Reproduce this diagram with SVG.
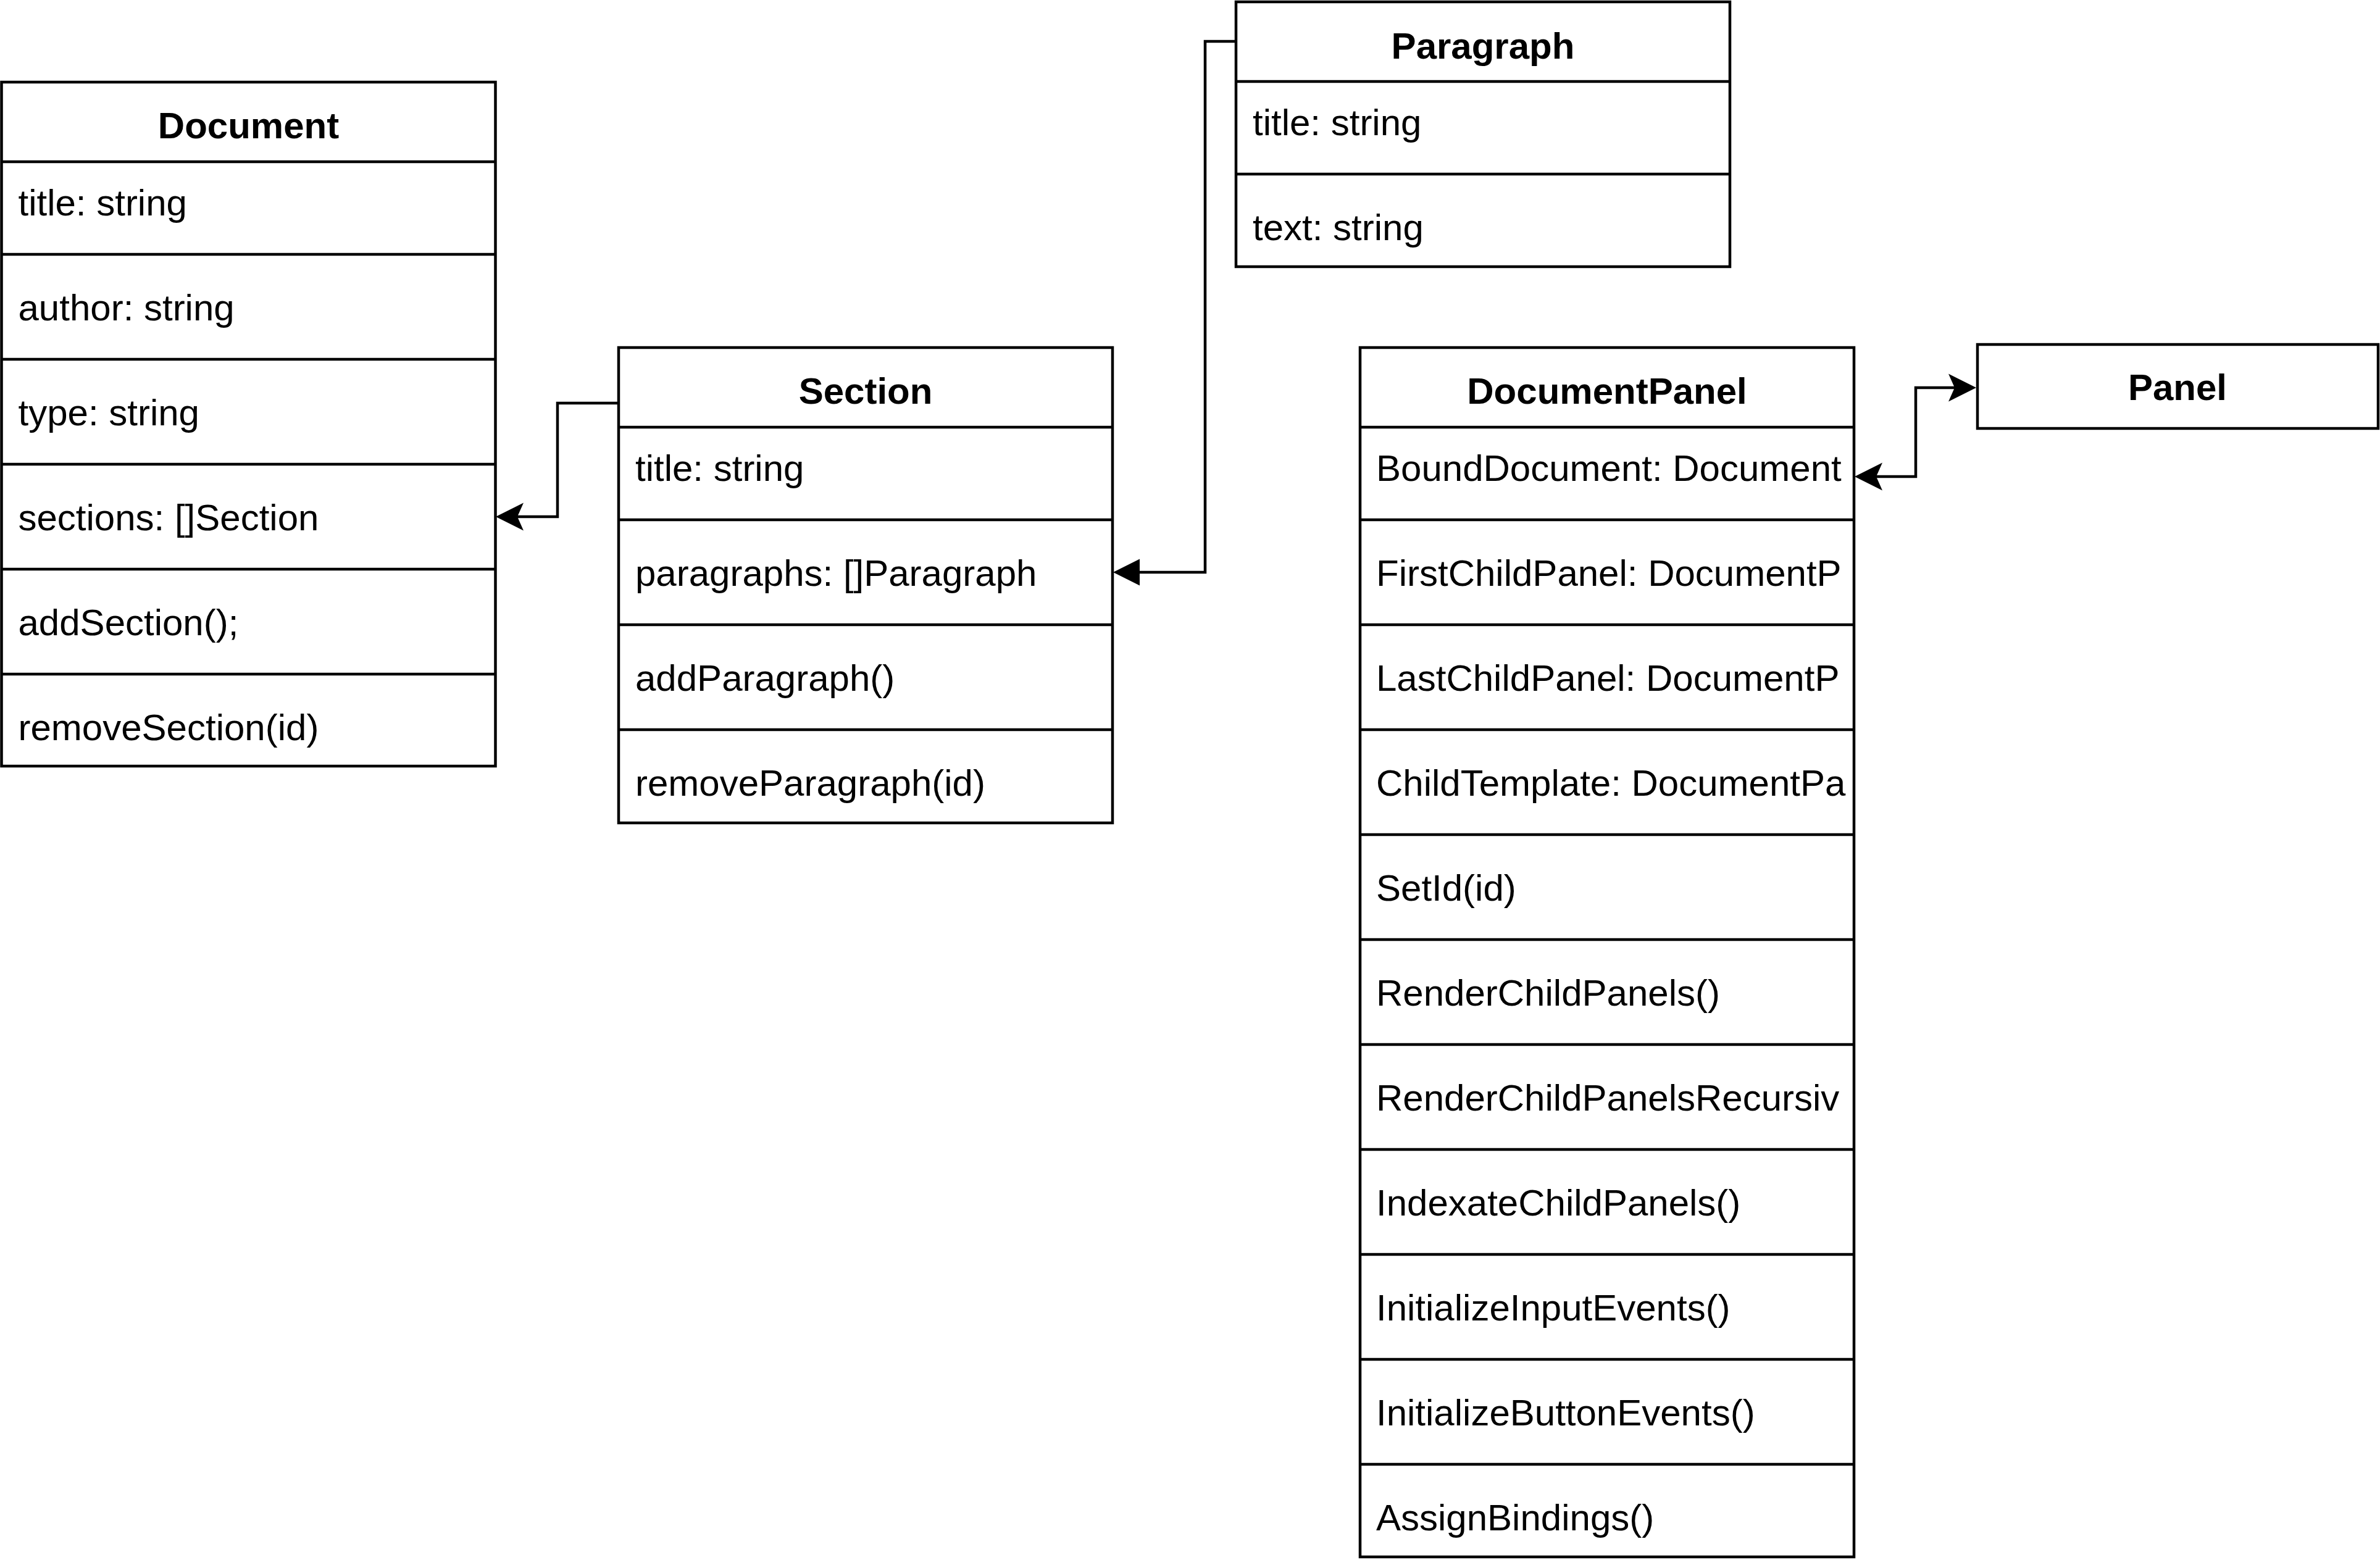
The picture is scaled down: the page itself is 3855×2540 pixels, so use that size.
<svg xmlns="http://www.w3.org/2000/svg" width="3855" height="2540" viewBox="0 0 3855 2540">
<style>
.box{fill:#ffffff;stroke:#000000;stroke-width:4.5}
.ln{stroke:#000000;stroke-width:4.5;fill:none}
.t{font-family:"Liberation Sans",Arial,Helvetica,sans-serif;font-size:60px;fill:#000000}
.h{font-family:"Liberation Sans",Arial,Helvetica,sans-serif;font-size:60px;font-weight:bold;fill:#000000;text-anchor:middle}
.edge{stroke:#000000;stroke-width:4.5;fill:none}
</style>
<defs>
<marker id="classic" markerUnits="userSpaceOnUse" markerWidth="46" markerHeight="46" refX="10" refY="22.5" orient="auto-start-reverse" overflow="visible">
<path d="M45,22.5 L0,0 L10,22.5 L0,45 Z" fill="#000000" stroke="none"/>
</marker>
<marker id="block" markerUnits="userSpaceOnUse" markerWidth="44" markerHeight="44" refX="0" refY="21.5" orient="auto" overflow="visible">
<path d="M43,21.5 L0,0 L0,43 Z" fill="#000000" stroke="none"/>
</marker>
<clipPath id="dpclip"><rect x="2203" y="692" width="795" height="1830"/></clipPath>
</defs>
<rect x="0" y="0" width="3855" height="2540" fill="#ffffff"/>

<g id="connectors">
<path class="edge" d="M1002,653 H903 V837 H838" marker-end="url(#classic)"/>
<path class="edge" d="M2002,67 H1952 V927 H1846" marker-end="url(#block)"/>
<path class="edge" d="M3039,772 H3103 V628 H3166" marker-start="url(#classic)" marker-end="url(#classic)"/>
</g>

<g id="document">
<rect class="box" x="2.5" y="133" width="800" height="1108"/>
<line class="ln" x1="2.5" y1="262" x2="802.5" y2="262"/>
<line class="ln" x1="2.5" y1="412" x2="802.5" y2="412"/>
<line class="ln" x1="2.5" y1="582" x2="802.5" y2="582"/>
<line class="ln" x1="2.5" y1="752" x2="802.5" y2="752"/>
<line class="ln" x1="2.5" y1="922" x2="802.5" y2="922"/>
<line class="ln" x1="2.5" y1="1092" x2="802.5" y2="1092"/>
<text class="h" x="402.5" y="224">Document</text>
<text class="t" x="29.5" y="349">title: string</text>
<text class="t" x="29.5" y="519">author: string</text>
<text class="t" x="29.5" y="689">type: string</text>
<text class="t" x="29.5" y="859">sections: []Section</text>
<text class="t" x="29.5" y="1029">addSection();</text>
<text class="t" x="29.5" y="1199">removeSection(id)</text>
</g>

<g id="section">
<rect class="box" x="1002" y="563" width="800" height="770"/>
<line class="ln" x1="1002" y1="692" x2="1802" y2="692"/>
<line class="ln" x1="1002" y1="842" x2="1802" y2="842"/>
<line class="ln" x1="1002" y1="1012" x2="1802" y2="1012"/>
<line class="ln" x1="1002" y1="1182" x2="1802" y2="1182"/>
<text class="h" x="1402" y="654">Section</text>
<text class="t" x="1029" y="779">title: string</text>
<text class="t" x="1029" y="949">paragraphs: []Paragraph</text>
<text class="t" x="1029" y="1119">addParagraph()</text>
<text class="t" x="1029" y="1289">removeParagraph(id)</text>
</g>

<g id="paragraph">
<rect class="box" x="2002" y="3" width="800" height="429"/>
<line class="ln" x1="2002" y1="132" x2="2802" y2="132"/>
<line class="ln" x1="2002" y1="282" x2="2802" y2="282"/>
<text class="h" x="2402" y="95">Paragraph</text>
<text class="t" x="2029" y="219">title: string</text>
<text class="t" x="2029" y="389">text: string</text>
</g>

<g id="documentpanel">
<rect class="box" x="2203" y="563" width="800" height="1959"/>
<line class="ln" x1="2203" y1="692" x2="3003" y2="692"/>
<line class="ln" x1="2203" y1="842" x2="3003" y2="842"/>
<line class="ln" x1="2203" y1="1012" x2="3003" y2="1012"/>
<line class="ln" x1="2203" y1="1182" x2="3003" y2="1182"/>
<line class="ln" x1="2203" y1="1352" x2="3003" y2="1352"/>
<line class="ln" x1="2203" y1="1522" x2="3003" y2="1522"/>
<line class="ln" x1="2203" y1="1692" x2="3003" y2="1692"/>
<line class="ln" x1="2203" y1="1862" x2="3003" y2="1862"/>
<line class="ln" x1="2203" y1="2032" x2="3003" y2="2032"/>
<line class="ln" x1="2203" y1="2202" x2="3003" y2="2202"/>
<line class="ln" x1="2203" y1="2372" x2="3003" y2="2372"/>
<text class="h" x="2603" y="654">DocumentPanel</text>
<g clip-path="url(#dpclip)">
<text class="t" x="2229" y="779">BoundDocument: Document</text>
<text class="t" x="2229" y="949">FirstChildPanel: DocumentP</text>
<text class="t" x="2229" y="1119">LastChildPanel: DocumentP</text>
<text class="t" x="2229" y="1289">ChildTemplate: DocumentPa</text>
<text class="t" x="2229" y="1459">SetId(id)</text>
<text class="t" x="2229" y="1629">RenderChildPanels()</text>
<text class="t" x="2229" y="1799">RenderChildPanelsRecursiv</text>
<text class="t" x="2229" y="1969">IndexateChildPanels()</text>
<text class="t" x="2229" y="2139">InitializeInputEvents()</text>
<text class="t" x="2229" y="2309">InitializeButtonEvents()</text>
<text class="t" x="2229" y="2479">AssignBindings()</text>
</g>
</g>

<g id="panel">
<rect class="box" x="3203" y="558" width="649" height="136"/>
<text class="h" x="3527" y="648">Panel</text>
</g>
</svg>
